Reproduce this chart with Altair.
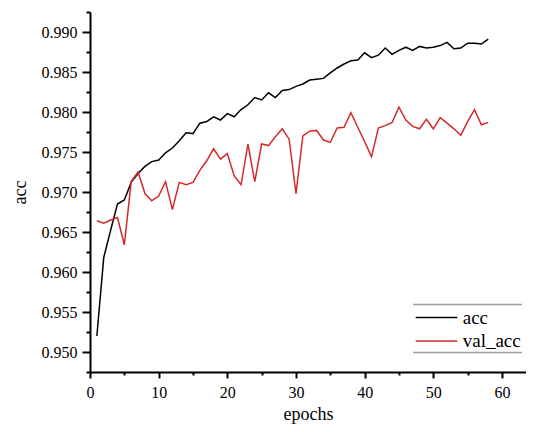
import altair as alt
import pandas as pd

epochs = list(range(1, 59))
acc = [0.9520, 0.9618, 0.9652, 0.9685, 0.9690, 0.9712, 0.9723, 0.9732, 0.9738, 0.9740,
       0.9749, 0.9755, 0.9764, 0.9774, 0.9773, 0.9786, 0.9788, 0.9794, 0.9790, 0.9798,
       0.9794, 0.9803, 0.9809, 0.9818, 0.9815, 0.9824, 0.9818, 0.9827, 0.9828, 0.9832,
       0.9835, 0.9840, 0.9841, 0.9842, 0.9849, 0.9855, 0.9860, 0.9864, 0.9865, 0.9874,
       0.9868, 0.9871, 0.9880, 0.9872, 0.9877, 0.9881, 0.9877, 0.9882, 0.9880, 0.9881,
       0.9883, 0.9887, 0.9879, 0.9880, 0.9886, 0.9886, 0.9885, 0.9891]
val_acc = [0.9664, 0.9661, 0.9665, 0.9668, 0.9634, 0.9713, 0.9725, 0.9698, 0.9689, 0.9695,
           0.9713, 0.9678, 0.9712, 0.9709, 0.9712, 0.9727, 0.9739, 0.9754, 0.9741, 0.9748,
           0.9720, 0.9709, 0.9760, 0.9713, 0.9760, 0.9758, 0.9769, 0.9779, 0.9766, 0.9698,
           0.9770, 0.9776, 0.9777, 0.9765, 0.9762, 0.9780, 0.9781, 0.9799, 0.9781, 0.9763,
           0.9744, 0.9780, 0.9783, 0.9787, 0.9806, 0.9790, 0.9782, 0.9779, 0.9791, 0.9779,
           0.9793, 0.9786, 0.9779, 0.9771, 0.9788, 0.9803, 0.9784, 0.9787]
series = ["acc", "val_acc"]
colors = ["#000000", "#d42a2a"]
x_ticks = list(range(0, 65, 5))
y_ticks = [round(0.9475 + 0.0025 * i, 4) for i in range(19)]

df = pd.DataFrame({
    "epochs": epochs * 2,
    "value": acc + val_acc,
    "series": [series[0]] * len(epochs) + [series[1]] * len(epochs),
})
legend_df = pd.DataFrame({"series": series})

FONT = "Liberation Serif, Times New Roman, serif"
MAJOR_Y = "abs(datum.value*200 - round(datum.value*200)) < 0.01"
color_scale = alt.Scale(domain=series, range=colors)

lines = alt.Chart(df).mark_line(strokeWidth=1.5).encode(
    x=alt.X("epochs:Q", scale=alt.Scale(domain=[0, 63.5], nice=False, zero=False),
            axis=alt.Axis(title="epochs", values=x_ticks,
                          labelExpr="datum.value % 10 == 0 ? datum.label : ''",
                          tickSize={"condition": {"test": "datum.value % 10 == 0", "value": 6}, "value": 3},
                          labelFont=FONT, titleFont=FONT, labelFontSize=16, titleFontSize=18,
                          labelPadding=6, titlePadding=5, labelFlush=False)),
    y=alt.Y("value:Q", scale=alt.Scale(domain=[0.9475, 0.9925], nice=False, zero=False),
            axis=alt.Axis(title="acc", values=y_ticks,
                          labelExpr=MAJOR_Y + " ? format(datum.value, '.3f') : ''",
                          tickSize={"condition": {"test": MAJOR_Y, "value": 8}, "value": 4},
                          labelFont=FONT, titleFont=FONT, labelFontSize=16, titleFontSize=18,
                          labelPadding=5, titlePadding=12, labelFlush=False)),
    color=alt.Color("series:N", scale=color_scale, legend=None),
)

leg_y = alt.Y("series:N", scale=alt.Scale(type="point", domain=series, range=[305.6, 329.0], padding=0),
              axis=None)
leg_lines = alt.Chart(legend_df).mark_rule(strokeWidth=1.5).encode(
    x=alt.value(325.7), x2=alt.value(367.3), y=leg_y,
    color=alt.Color("series:N", scale=color_scale, legend=None))
leg_text = alt.Chart(legend_df).mark_text(align="left", baseline="middle", font=FONT, fontSize=19,
                                          color="black").encode(
    x=alt.value(372.7), y=leg_y, text="series:N")

legend_top = alt.Chart(pd.DataFrame({"k": [0]})).mark_rule(color="#a0a0a0", strokeWidth=1.5).encode(
    x=alt.value(323), x2=alt.value(432), y=alt.value(292.6))
legend_bottom = alt.Chart(pd.DataFrame({"k": [0]})).mark_rule(color="#a0a0a0", strokeWidth=1.5).encode(
    x=alt.value(323), x2=alt.value(432), y=alt.value(340.6))

chart = alt.layer(lines, leg_lines, leg_text, legend_top, legend_bottom).resolve_scale(
    y="independent"
).properties(
    width=436, height=360,
    autosize=alt.AutoSizeParams(type="none"),
    padding={"left": 82, "top": 4, "right": 0, "bottom": 52},
).configure(font=FONT).configure_view(stroke=None).configure_axis(
    domainColor="black", domainWidth=2, tickColor="black", tickWidth=2,
    labelColor="black", titleFontWeight="normal", titleColor="black",
    grid=False,
)

chart.save("out.html", embed_options={"renderer": "svg", "actions": False})
